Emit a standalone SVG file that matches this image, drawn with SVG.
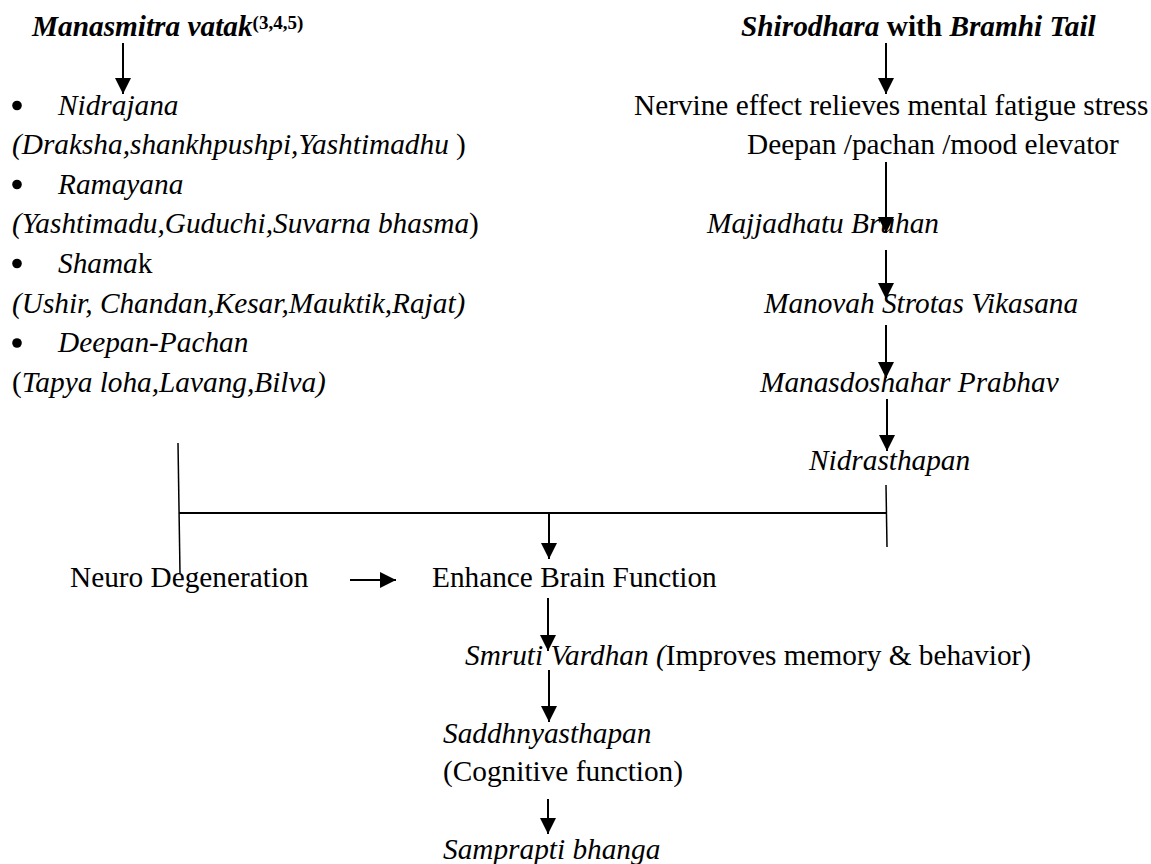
<svg xmlns="http://www.w3.org/2000/svg" width="1151" height="864" viewBox="0 0 1151 864">
<style>
text{font-family:"Liberation Serif","Times New Roman",serif;font-size:29.3px;fill:#000}
.i{font-style:italic}
.b{font-weight:bold}
.sup{font-size:19px;font-weight:bold}
.ln{stroke:#000;stroke-width:2;fill:none}
.thin{stroke:#000;stroke-width:1.5;fill:none}
.ar{stroke:#000;stroke-width:2;fill:none;marker-end:url(#ah)}
</style>
<defs>
<marker id="ah" markerUnits="userSpaceOnUse" markerWidth="17" markerHeight="16" refX="16" refY="8" orient="auto">
<path d="M0,0 L16,8 L0,16 z" fill="#000"/>
</marker>
</defs>
<rect width="1151" height="864" fill="#fff"/>

<g id="connectors">
<line class="ar" x1="123" y1="43" x2="123" y2="94"/>
<line class="ar" x1="886" y1="43" x2="886" y2="94"/>
<line class="ar" x1="886" y1="162" x2="886" y2="233"/>
<line class="ar" x1="886" y1="250" x2="886" y2="299"/>
<line class="ar" x1="886" y1="325" x2="886" y2="378"/>
<line class="ar" x1="887" y1="399" x2="887" y2="451"/>
<line class="thin" x1="178" y1="443" x2="180" y2="573"/>
<line class="ln" x1="179" y1="513" x2="886" y2="513"/>
<line class="thin" x1="886" y1="485" x2="887" y2="547"/>
<line class="ar" x1="549" y1="513" x2="549" y2="559"/>
<line class="ar" x1="350" y1="580" x2="396" y2="580"/>
<line class="ar" x1="548" y1="598" x2="548" y2="651"/>
<line class="ar" x1="549" y1="670" x2="549" y2="722"/>
<line class="ar" x1="548" y1="799" x2="548" y2="834"/>
</g>

<g id="manasmitra">
<text x="32" y="36" class="i b">Manasmitra vatak<tspan class="sup" dy="-7" font-style="normal">(3,4,5)</tspan></text>
</g>

<g id="ingredients">
<circle cx="17" cy="105.5" r="4.8"/>
<text x="58" y="115" class="i">Nidrajana</text>
<text x="12" y="154"><tspan class="i">(Draksha,shankhpushpi,Yashtimadhu</tspan> )</text>
<circle cx="17" cy="184.5" r="4.8"/>
<text x="58" y="194" class="i">Ramayana</text>
<text x="12" y="233"><tspan class="i">(Yashtimadu,Guduchi,Suvarna bhasma</tspan>)</text>
<circle cx="17" cy="263.5" r="4.8"/>
<text x="58" y="273"><tspan class="i">Shama</tspan>k</text>
<text x="12" y="313" class="i">(Ushir, Chandan,Kesar,Mauktik,Rajat)</text>
<circle cx="17" cy="343" r="4.8"/>
<text x="58" y="352" class="i">Deepan-Pachan</text>
<text x="12" y="392">(<tspan class="i">Tapya loha,Lavang,Bilva)</tspan></text>
</g>

<g id="shirodhara">
<text x="741" y="36" class="b"><tspan class="i">Shirodhara</tspan> with <tspan class="i">Bramhi Tail</tspan></text>
</g>

<g id="nervine">
<text x="634" y="115">Nervine effect relieves mental fatigue stress</text>
<text x="747" y="154">Deepan /pachan /mood elevator</text>
</g>

<g id="majjadhatu"><text x="707" y="233" class="i">Majjadhatu Bruhan</text></g>
<g id="manovah"><text x="764" y="313" class="i">Manovah Strotas Vikasana</text></g>
<g id="manasdoshahar"><text x="760" y="392" class="i">Manasdoshahar Prabhav</text></g>
<g id="nidrasthapan"><text x="809" y="470" class="i">Nidrasthapan</text></g>

<g id="neuro"><text x="70" y="587">Neuro Degeneration</text></g>
<g id="enhance"><text x="432" y="587">Enhance Brain Function</text></g>

<g id="smruti"><text x="465" y="665"><tspan class="i">Smruti Vardhan (</tspan>Improves memory &amp; behavior)</text></g>

<g id="saddhnya">
<text x="443" y="743" class="i">Saddhnyasthapan</text>
<text x="443" y="781">(Cognitive function)</text>
</g>

<g id="samprapti"><text x="443" y="859" class="i">Samprapti bhanga</text></g>
</svg>
